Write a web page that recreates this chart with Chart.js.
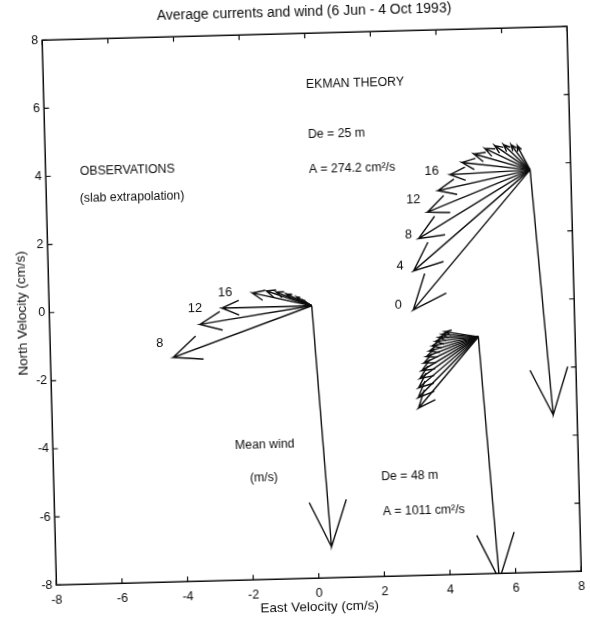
<!DOCTYPE html>
<html><head><meta charset="utf-8">
<script src="https://cdn.jsdelivr.net/npm/chart.js@4.4.1/dist/chart.umd.min.js"></script>
<style>
html,body{margin:0;padding:0;background:#fff;overflow:hidden;width:590px;height:618px;}
#wrap{position:absolute;left:0;top:0;width:590px;height:618px;transform:rotate(-1.5deg);transform-origin:311.75px 305.75px;}
canvas{display:block}
</style></head><body>
<div id="wrap"><canvas id="c" width="590" height="618" style="width:590px;height:618px"></canvas></div>
<script>
const tickValues = [-8,-6,-4,-2,0,2,4,6,8];

// Observations (slab extrapolation), arrows start at obsOrigin
const obsOrigin = [0, 0];
const obsDepths = [8,12,16,20,24,28,32,36,40];
const obsU = [-4.26,-3.42,-2.74,-1.80,-1.37,-1.07,-0.76,-0.45,-0.25];
const obsV = [-1.41,-0.46,0.00,0.42,0.47,0.43,0.36,0.27,0.17];
const obsLabelDepths = [8,12,16];
const obsLabelX = [-4.66,-3.56,-2.63];
const obsLabelY = [-0.98,0.02,0.44];

// Ekman theory, De = 25 m
const ek25Origin = [6.76, 3.82];
const ek25Depths = [0,4,8,12,16,20,24,28,32,36,40,44,48];
const ek25U = [-3.67,-3.63,-3.45,-3.16,-2.82,-2.44,-2.07,-1.70,-1.36,-1.06,-0.79,-0.56,-0.37];
const ek25V = [-4.02,-2.88,-1.93,-1.16,-0.54,-0.08,0.27,0.51,0.66,0.74,0.76,0.75,0.71];
const ek25LabelDepths = [0,4,8,12,16];
const ek25LabelX = [2.64,2.72,3.00,3.18,3.76];
const ek25LabelY = [-0.04,1.08,2.00,3.03,3.84];

// Ekman theory, De = 48 m
const ek48Origin = [5.05, -1.04];
const ek48Depths = [0,4,8,12,16,20,24,28,32,36,40,44,48];
const ek48U = [-1.88,-1.88,-1.86,-1.81,-1.75,-1.68,-1.60,-1.50,-1.41,-1.31,-1.21,-1.11,-1.01];
const ek48V = [-2.05,-1.74,-1.45,-1.18,-0.95,-0.73,-0.54,-0.38,-0.23,-0.10,0.01,0.10,0.17];

// Mean wind (m/s) drawn from each origin: observations, De=25, De=48
const windU = [0.41, 0.51, 0.45];
const windV = [-7.09, -7.21, -7.15];

// Text notes
const noteTexts = ["EKMAN THEORY","De = 25 m","A = 274.2 cm\u00b2/s","OBSERVATIONS","(slab extrapolation)","Mean wind","(m/s)","De = 48 m","A = 1011 cm\u00b2/s"];
const noteX = [0.0, 0.02, 0.02, -6.96, -6.98, -2.45, -2.02, 1.98, 2.0];
const noteY = [6.48, 5.02, 3.99, 4.10, 3.31, -4.06, -5.01, -5.08, -6.11];

const HEAD_ALPHA = 0.19, HEAD_BETA = 0.42;
const INK = '#0d0d0d';
function arrowPoints(x0, y0, u, v) {
  const tx = x0 + u, ty = y0 + v;
  return [
    {x: x0, y: y0}, {x: tx, y: ty},
    {x: tx - HEAD_ALPHA * (u + HEAD_BETA * v), y: ty - HEAD_ALPHA * (v - HEAD_BETA * u)},
    {x: tx, y: ty},
    {x: tx - HEAD_ALPHA * (u - HEAD_BETA * v), y: ty - HEAD_ALPHA * (v + HEAD_BETA * u)}
  ];
}
function arrowDataset(label, pts) {
  return {label, data: pts, showLine: true, borderColor: INK, borderWidth: 1.4,
          pointRadius: 0, fill: false, tension: 0};
}
const datasets = [];
obsDepths.forEach((d, i) => datasets.push(arrowDataset('obs ' + d, arrowPoints(obsOrigin[0], obsOrigin[1], obsU[i], obsV[i]))));
ek25Depths.forEach((d, i) => datasets.push(arrowDataset('De25 ' + d, arrowPoints(ek25Origin[0], ek25Origin[1], ek25U[i], ek25V[i]))));
ek48Depths.forEach((d, i) => datasets.push(arrowDataset('De48 ' + d, arrowPoints(ek48Origin[0], ek48Origin[1], ek48U[i], ek48V[i]))));
const windOrigins = [obsOrigin, ek25Origin, ek48Origin];
windOrigins.forEach((o, i) => datasets.push(arrowDataset('wind ' + i, arrowPoints(o[0], o[1], windU[i], windV[i]))));

const FONT = '"Liberation Sans", Arial, Helvetica, sans-serif';

const deco = {
  id: 'deco',
  afterDraw(chart) {
    const {ctx, chartArea: a, scales: {x, y}} = chart;
    ctx.save();
    ctx.strokeStyle = INK; ctx.lineWidth = 1.5;
    ctx.strokeRect(a.left, a.top, a.right - a.left, a.bottom - a.top);
    const L = 5;
    ctx.lineWidth = 1.2;
    ctx.beginPath();
    tickValues.forEach(v => {
      const px = x.getPixelForValue(v), py = y.getPixelForValue(v);
      ctx.moveTo(px, a.bottom); ctx.lineTo(px, a.bottom - L);
      ctx.moveTo(px, a.top); ctx.lineTo(px, a.top + L);
      ctx.moveTo(a.left, py); ctx.lineTo(a.left + L, py);
      ctx.moveTo(a.right, py); ctx.lineTo(a.right - L, py);
    });
    ctx.stroke();
    ctx.fillStyle = INK;
    ctx.font = '12.3px ' + FONT;
    ctx.textBaseline = 'middle'; ctx.textAlign = 'left';
    noteTexts.forEach((t, i) => ctx.fillText(t, x.getPixelForValue(noteX[i]), y.getPixelForValue(noteY[i])));
    ctx.textAlign = 'center';
    ctx.font = '12.8px ' + FONT;
    obsLabelDepths.forEach((d, i) => ctx.fillText(String(d), x.getPixelForValue(obsLabelX[i]), y.getPixelForValue(obsLabelY[i])));
    ek25LabelDepths.forEach((d, i) => ctx.fillText(String(d), x.getPixelForValue(ek25LabelX[i]), y.getPixelForValue(ek25LabelY[i])));
    ctx.restore();
  }
};

new Chart(document.getElementById('c'), {
  type: 'scatter',
  data: {datasets},
  plugins: [deco],
  options: {
    responsive: false, animation: false, devicePixelRatio: 1,
    layout: {padding: {left: 0, right: 15.75, top: 0, bottom: 0}},
    plugins: {
      legend: {display: false}, tooltip: {enabled: false},
      title: {display: true, fullSize: false, text: 'Average currents and wind (6 Jun - 4 Oct 1993)', color: INK,
              font: {family: FONT, size: 14, weight: 'normal'}, padding: {top: 3.6, bottom: 12.85}}
    },
    scales: {
      x: {type: 'linear', min: -8, max: 8,
          afterBuildTicks: s => { s.ticks = tickValues.map(v => ({value: v})); },
          afterFit: s => { s.height = 39.75; },
          grid: {display: false, drawTicks: false}, border: {display: false},
          ticks: {color: INK, padding: 8, font: {family: FONT, size: 12.5}, maxRotation: 0, autoSkip: false},
          title: {display: true, text: 'East Velocity (cm/s)', color: INK, font: {family: FONT, size: 13.5}, padding: {top: 0, bottom: 2.9}}},
      y: {type: 'linear', min: -8, max: 8,
          afterBuildTicks: s => { s.ticks = tickValues.map(v => ({value: v})); },
          afterFit: s => { s.width = 49.25; },
          grid: {display: false, drawTicks: false}, border: {display: false},
          ticks: {color: INK, padding: 4, font: {family: FONT, size: 12.5}, autoSkip: false},
          title: {display: true, text: 'North Velocity (cm/s)', color: INK, font: {family: FONT, size: 13.5}, padding: {top: 13.9, bottom: 0}}}
    }
  }
});
</script>
</body></html>
